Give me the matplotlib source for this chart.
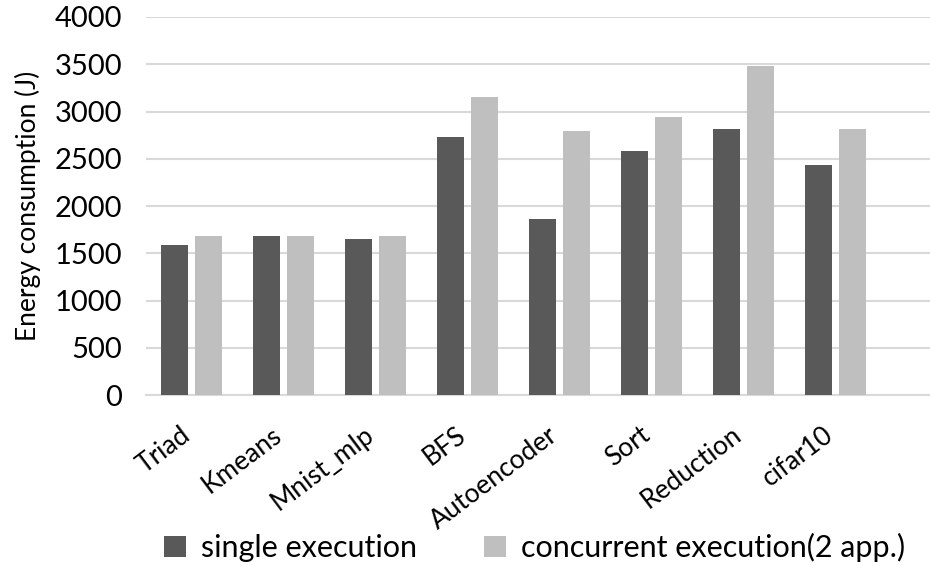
import numpy as np
import matplotlib.pyplot as plt

# data
apps = ["Triad", "Kmeans", "Mnist_mlp", "BFS", "Autoencoder", "Sort", "Reduction", "cifar10"]
single = [1587, 1683, 1651, 2733, 1862, 2582, 2815, 2434]
concurrent = [1683, 1683, 1683, 3153, 2794, 2942, 3481, 2815]

plt.rcParams['font.family'] = ['Lato', 'DejaVu Sans']

fig = plt.figure(figsize=(9.3, 5.66), dpi=100)
ax = fig.add_axes([0.157, 0.302, 0.843, 0.668])

x = np.arange(len(apps))
w = 0.294
ax.bar(x - 0.185, single, w, color="#595959", label="single execution", zorder=3)
ax.bar(x + 0.185, concurrent, w, color="#bfbfbf", label="concurrent execution(2 app.)", zorder=3)

# axes
ax.set_ylim(0, 4000)
ax.set_xlim(-0.5, 8.03)
ax.set_yticks(np.arange(0, 4001, 500))
ax.tick_params(axis="y", labelsize=21, length=0, pad=17)
ax.tick_params(axis="x", labelsize=19, length=0, pad=31)
ax.set_xticks(x)
ax.set_xticklabels(apps, rotation=37, ha="right", va="baseline", rotation_mode="anchor")
ax.set_ylabel("Energy consumption (J)", size=19, labelpad=10)

ax.grid(axis="y", color="#d9d9d9", linewidth=1.5, zorder=0)
for s in ["top", "right", "left"]:
    ax.spines[s].set_visible(False)
ax.spines["bottom"].set_color("#d9d9d9")
ax.spines["bottom"].set_linewidth(1.5)

# legend
fig.legend(loc="center", bbox_to_anchor=(0.575, 0.032), ncol=2, frameon=False,
           fontsize=22, handlelength=0.7, handleheight=0.7, columnspacing=2.2, handletextpad=0.5)

plt.savefig("out.png", dpi=100)
